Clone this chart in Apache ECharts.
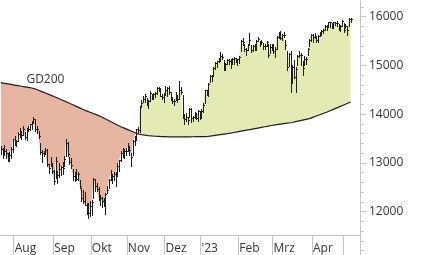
<!DOCTYPE html>
<html>
<head>
<meta charset="utf-8">
<script src="https://cdn.jsdelivr.net/npm/echarts@6/dist/echarts.min.js"></script>
<style>
html,body{margin:0;padding:0;background:#fff;}
#chart{width:426px;height:255px;}
</style>
</head>
<body>
<div id="chart"></div>
<script>
// Tick labels and the trading-day index where each month starts
const monthLabels = ['Aug', 'Sep', 'Okt', 'Nov', 'Dez', "'23", 'Feb', 'Mrz', 'Apr', ''];
const monthStarts = [8, 31, 53, 74, 96, 117, 139, 159, 182, 200];
const dayCount = 210;

// Daily highs (Jul 20 2022 .. May 8 2023)
const highs = [
  13356,13313,13362,13290,13200,13221,13327,13499,
  13553,13470,13637,13722,13663,13748,13643,13714,13765,13805,13852,13947,13895,13760,13650,13414,13260,13247,13314,13282,12969,13118,13007,
  12860,13112,12844,12990,12945,13020,13141,13495,13424,13120,13100,12880,12822,12872,12821,12660,12492,12448,12400,12185,12170,12226,
  12246,12688,12662,12582,12504,12340,12300,12284,12393,12535,12670,12854,12771,12810,12806,12994,13068,13250,13300,13290,13300,
  13410,13330,13195,13480,13558,13700,13740,14158,14300,14367,14411,14330,14290,14485,14420,14441,14462,14560,14560,14530,14408,14431,
  14576,14550,14575,14460,14350,14310,14450,14390,14675,14550,14390,14000,14030,13950,14120,14130,13970,14040,14020,14090,14070,
  14100,14220,14500,14490,14630,14810,14800,14960,15080,15090,15145,15270,15244,15120,15050,15140,15140,15130,15150,15180,15160,15140,
  15200,15520,15560,15440,15360,15450,15660,15420,15420,15440,15520,15590,15500,15520,15460,15440,15510,15440,15430,15440,
  15440,15370,15600,15680,15700,15650,15690,15520,15300,15250,15290,15000,15120,14960,15210,15300,15250,15100,15190,15170,15360,15540,15650,
  15640,15660,15600,15620,15680,15730,15750,15830,15820,15900,15900,15880,15900,15900,15910,15850,15830,15930,
  15870,15850,15800,15980,15980
];
const lows = [
  13180,13096,13166,13096,13050,13046,13110,13227,
  13375,13340,13441,13536,13498,13583,13500,13470,13646,13668,13693,13812,13657,13623,13512,13181,13024,13138,13192,12928,12792,12936,12800,
  12560,12688,12597,12720,12762,12776,12935,13145,13150,12970,12906,12641,12622,12641,12659,12477,12228,12170,12132,11951,11863,11908,
  11940,12290,12420,12434,12250,12130,12105,12126,11947,12377,12487,12660,12594,12655,12519,12735,12826,13040,13118,13094,13160,
  13250,13170,12945,13163,13367,13466,13612,13630,14150,14249,14252,14190,14131,14270,14310,14310,14362,14424,14485,14370,14322,14252,
  14420,14370,14410,14300,14224,14180,14290,14260,14320,14410,13930,13792,13870,13791,13940,13850,13860,13920,13900,13870,13904,
  13950,14050,14230,14400,14380,14670,14690,14800,14920,14960,15070,15090,15140,14900,14906,15030,15020,14950,15030,15040,15080,15000,
  15050,15290,15420,15300,15220,15320,15440,15280,15300,15320,15310,15500,15400,15440,15340,15340,15400,15180,15250,15310,
  15260,15180,15340,15560,15550,15520,15580,15340,14900,14990,14459,14640,14740,14458,15000,15180,15000,14810,15000,15030,15220,15400,15500,
  15480,15560,15480,15490,15600,15630,15660,15720,15720,15790,15780,15760,15760,15830,15800,15720,15710,15800,
  15690,15760,15630,15810,15900
];
const closes = [
  13282,13247,13254,13211,13097,13166,13282,13484,
  13479,13449,13587,13662,13574,13688,13535,13700,13695,13795,13816,13910,13697,13697,13544,13230,13194,13220,13272,12971,12893,12961,12835,
  12631,13050,12761,12871,12916,12904,13088,13402,13189,13028,12957,12741,12803,12671,12767,12531,12284,12227,12140,12183,11976,12114,
  12209,12671,12517,12471,12273,12272,12220,12172,12356,12438,12649,12765,12741,12767,12731,12931,13053,13195,13211,13243,13253,
  13339,13257,13130,13460,13533,13688,13666,14146,14224,14313,14379,14234,14267,14432,14380,14422,14428,14540,14541,14383,14356,14397,
  14490,14529,14448,14343,14261,14265,14371,14307,14498,14460,13987,13894,13942,13884,14098,13914,13941,13995,13925,14072,13924,
  14069,14182,14491,14436,14610,14792,14775,14948,15058,15087,15135,15187,15181,14920,15034,15103,15094,15082,15132,15150,15126,15128,
  15181,15509,15476,15345,15321,15412,15523,15308,15397,15380,15507,15534,15482,15477,15398,15400,15476,15210,15381,15365,
  15305,15328,15578,15654,15559,15632,15634,15428,14959,15233,14735,14967,14768,14933,15196,15216,15211,14957,15128,15142,15329,15522,15629,
  15581,15603,15520,15598,15655,15703,15730,15808,15790,15883,15896,15796,15882,15864,15872,15796,15800,15922,
  15727,15815,15734,15961,15953
];
// 200-day moving average
const gd200 = [
  14646,14640,14634,14628,14622,14616,14610,14604,14598,14592,14586,14580,14574,14568,14562,14556,14550,14544,14538,14532,
  14518,14504,14490,14476,14462,14448,14434,14420,14406,14392,14377,14362,14347,14332,14317,14302,14287,14272,14257,14241,
  14225,14209,14193,14177,14161,14145,14129,14113,14097,14083,14069,14055,14041,14027,14013,13999,13985,13971,13957,13939,
  13921,13903,13885,13867,13849,13831,13813,13795,13777,13759,13744,13729,13714,13699,13684,13669,13654,13639,13624,13609,
  13594,13587,13581,13575,13570,13565,13561,13557,13554,13551,13548,13546,13544,13542,13540,13539,13538,13537,13536,13535,
  13535,13534,13534,13534,13534,13534,13535,13535,13535,13536,13536,13537,13537,13538,13538,13539,13539,13540,13540,13541,
  13542,13546,13551,13556,13561,13566,13571,13576,13581,13586,13591,13596,13601,13606,13612,13619,13625,13632,13638,13645,
  13651,13658,13664,13671,13677,13684,13690,13697,13703,13710,13716,13723,13729,13736,13742,13749,13755,13762,13768,13774,
  13780,13785,13790,13795,13800,13805,13810,13815,13820,13825,13830,13838,13846,13854,13862,13870,13878,13886,13894,13902,
  13910,13923,13936,13949,13962,13975,13988,14001,14014,14027,14040,14055,14070,14085,14100,14115,14130,14145,14160,14175,
  14190,14205,14220,14235,14250
];
const maLabel = 'GD200';
const maLabelDay = 26;

const colors = { below: '#e6b5a2', above: '#e4eab3', bars: '#1e1e1e', ma: '#1e1e1e', axis: '#c4c4c4', text: '#333333' };

// Build fill regions between price (close) and moving average, split at crossings
function buildRegions() {
  const regions = [];
  let cur = null;
  for (let i = 0; i < closes.length; i++) {
    const d = closes[i] - gd200[i];
    const sign = d >= 0 ? 1 : -1;
    if (!cur) {
      cur = { sign, top: [[i, closes[i]]], bot: [[i, gd200[i]]] };
    } else if (sign !== cur.sign) {
      const dPrev = closes[i - 1] - gd200[i - 1];
      const t = dPrev / (dPrev - d);
      const cx = i - 1 + t;
      const cy = gd200[i - 1] + t * (gd200[i] - gd200[i - 1]);
      cur.top.push([cx, cy]);
      regions.push(cur);
      cur = { sign, top: [[cx, cy], [i, closes[i]]], bot: [[cx, cy], [i, gd200[i]]] };
    } else {
      cur.top.push([i, closes[i]]);
      cur.bot.push([i, gd200[i]]);
    }
  }
  regions.push(cur);
  return regions.map(r => ({ sign: r.sign, pts: r.top.concat(r.bot.slice().reverse()) }));
}
const regions = buildRegions();

const ohlcData = closes.map((c, i) => [i, highs[i], lows[i], c]);
const maData = gd200.map((v, i) => {
  if (i === maLabelDay) {
    return { value: [i, v], label: { show: true, formatter: maLabel, position: 'top', distance: 7, color: colors.text, fontSize: 12, fontFamily: 'Open Sans' } };
  }
  return [i, v];
});
const tickValues = monthStarts.map(s => s - 0.5);

const chart = echarts.init(document.getElementById('chart'), null, { renderer: 'canvas' });
chart.setOption({
  animation: false,
  backgroundColor: '#ffffff',
  textStyle: { fontFamily: 'Open Sans' },
  grid: { left: 0, right: 66, top: -32.05, bottom: -5.45, containLabel: false, outerBoundsMode: 'none' },
  xAxis: {
    type: 'value',
    min: -0.5,
    max: dayCount - 0.5,
    offset: -25.45,
    axisLine: { show: true, onZero: false, lineStyle: { color: colors.axis, width: 1 } },
    axisTick: { show: true, length: 20, customValues: tickValues, lineStyle: { color: colors.axis } },
    axisLabel: {
      show: true,
      customValues: tickValues,
      formatter: function (v) { const k = tickValues.indexOf(v); return k >= 0 ? monthLabels[k] : ''; },
      align: 'left',
      padding: [0, 0, 0, 1],
      margin: 8,
      color: colors.text,
      fontSize: 12,
      fontFamily: 'Open Sans'
    },
    splitLine: { show: false }
  },
  yAxis: {
    type: 'value',
    position: 'right',
    min: 11000,
    max: 17000,
    interval: 1000,
    axisLine: { show: true, onZero: false, lineStyle: { color: colors.axis, width: 1 } },
    axisTick: { show: true, length: 6, lineStyle: { color: colors.axis } },
    minorTick: { show: true, splitNumber: 5, length: 4, lineStyle: { color: colors.axis } },
    axisLabel: {
      margin: 9,
      color: colors.text,
      fontSize: 12,
      fontFamily: 'Open Sans',
      formatter: function (v) { return (v >= 12000 && v <= 16000) ? String(v) : ''; }
    },
    splitLine: { show: false },
    minorSplitLine: { show: false }
  },
  series: [
    {
      type: 'custom',
      name: 'fill',
      silent: true,
      z: 1,
      data: regions.map(r => [r.pts[0][0], r.pts[0][1]]),
      encode: { x: 0, y: 1 },
      renderItem: function (params, api) {
        const r = regions[params.dataIndex];
        return {
          type: 'polygon',
          shape: { points: r.pts.map(p => api.coord(p)) },
          style: { fill: r.sign > 0 ? colors.above : colors.below, stroke: null }
        };
      }
    },
    {
      type: 'line',
      name: maLabel,
      z: 3,
      data: maData,
      symbol: 'circle',
      symbolSize: 0,
      showSymbol: true,
      showAllSymbol: true,
      lineStyle: { color: colors.ma, width: 1.2 },
      itemStyle: { color: colors.ma },
      label: { show: false },
      silent: true
    },
    {
      type: 'custom',
      name: 'DAX',
      z: 4,
      silent: true,
      data: ohlcData,
      encode: { x: 0, y: [1, 2, 3] },
      renderItem: function (params, api) {
        const i = api.value(0);
        const hi = api.coord([i, api.value(1)]);
        const lo = api.coord([i, api.value(2)]);
        const cl = api.coord([i, api.value(3)]);
        const x = Math.round(hi[0]) + 0.5;
        const yc = Math.round(cl[1]) + 0.5;
        return {
          type: 'group',
          children: [
            { type: 'line', shape: { x1: x, y1: Math.round(hi[1]), x2: x, y2: Math.round(lo[1]) + 1 }, style: { stroke: colors.bars, lineWidth: 1 } },
            { type: 'line', shape: { x1: x, y1: yc, x2: x + 1.5, y2: yc }, style: { stroke: colors.bars, lineWidth: 1 } }
          ]
        };
      }
    }
  ]
});
</script>
</body>
</html>
